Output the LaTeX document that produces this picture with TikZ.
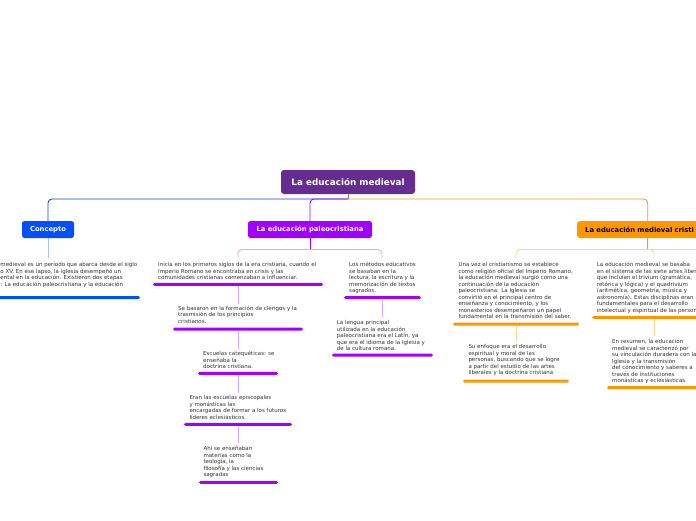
\documentclass[tikz,border=0pt]{standalone}
\usepackage{fontspec}
\setmainfont{DejaVu Sans}
\definecolor{rootc}{HTML}{662D91}
\definecolor{bluec}{HTML}{0050FF}
\definecolor{bluel}{HTML}{1A44D6}
\definecolor{bluelt}{HTML}{A8C2FF}
\definecolor{purc}{HTML}{A100FF}
\definecolor{purlt}{HTML}{DDA6FF}
\definecolor{orc}{HTML}{FF9800}
\definecolor{orl}{HTML}{EE9A2E}
\definecolor{orlt}{HTML}{FFD48C}
\definecolor{txtc}{HTML}{333333}
\definecolor{stemc}{HTML}{B07A5A}
\begin{document}
\begin{tikzpicture}[x=1pt,y=-1pt,
  rootbox/.style={fill=rootc, rounded corners=3pt, text=white, font=\fontsize{8.8}{10}\selectfont\bfseries, minimum width=134pt, minimum height=24pt, inner sep=0pt},
  lonebox/.style={rounded corners=2.5pt, font=\fontsize{6.8}{8}\selectfont\bfseries, minimum height=17pt, inner sep=0pt},
  txt/.style={anchor=north west, inner sep=0pt, align=left, text=txtc, font=\fontsize{5.5}{6.5}\selectfont},
  barb/.style={fill=#1, rounded corners=1.5pt, minimum height=3pt, inner sep=0pt},
  con/.style={draw=#1, line width=0.9pt},
  rcon/.style={draw=#1, line width=0.9pt, rounded corners=4pt},
]
\useasboundingbox (0,0) rectangle (696,520);
\clip (0,0) rectangle (696,520);
\fill[white] (0,0) rectangle (696,520);

% main boxes
\node[rootbox] (root) at (348,182) {La educación medieval};
\node[lonebox, fill=bluec, text=white, minimum width=52pt] (conc) at (48,229.5) {Concepto};
\node[lonebox, fill=purc, text=white, minimum width=124pt] (paleo) at (310,229.5) {La educación paleocristiana};
\node[lonebox, fill=orc, text=black, anchor=west, text width=125pt, align=left, inner xsep=8pt] (medc) at (577,229.5) {La educación medieval cristi};

% root connectors
\coordinate (hub) at (348,199);
\draw[rcon=bluel] (hub) -| (conc.north);
\draw[rcon=purc] (hub) -| (paleo.north);
\draw[rcon=orl] (hub) -| (medc.north);
\draw[con=stemc] (root.south) -- (hub);

% junction coordinates
\coordinate (k1in) at (48,258);
\coordinate (pj) at (310,249.5);
\coordinate (a1in) at (238,258);
\coordinate (b1in) at (382,258);
\coordinate (oj) at (647.5,249.5);
\coordinate (c1in) at (516,258);
\coordinate (d1in) at (654,258);
\coordinate (eout) at (710,249.5);
\coordinate (a2in) at (238,304);
\coordinate (a3in) at (238,349);
\coordinate (a4in) at (238,393);
\coordinate (a5in) at (238,443);
\coordinate (b2in) at (382.5,317);
\coordinate (c2in) at (516,341);
\coordinate (d2in) at (654,336);

% bars
\node[barb=bluec, minimum width=184pt] (k1bar) at (48,297.5) {};
\node[barb=purc, minimum width=170pt] (a1bar) at (238,284.3) {};
\node[barb=purc, minimum width=130pt] (a2bar) at (238,329) {};
\node[barb=purc, minimum width=80pt] (a3bar) at (238,373.3) {};
\node[barb=purc, minimum width=108pt] (a4bar) at (238,424.3) {};
\node[barb=purc, minimum width=79pt] (a5bar) at (238.5,482.3) {};
\node[barb=purc, minimum width=77pt] (b1bar) at (382.5,297.7) {};
\node[barb=purc, minimum width=101pt] (b2bar) at (382.5,355) {};
\node[barb=orc, minimum width=126pt] (c1bar) at (516,324) {};
\node[barb=orc, minimum width=106pt] (c2bar) at (516,381) {};
\node[barb=orc, minimum width=124pt] (d1bar) at (654,317.3) {};
\node[barb=orc, minimum width=94pt] (d2bar) at (654,387.7) {};

% level connectors
\draw[con=bluelt] (conc.south) -- (k1in);
\draw[con=purc] (paleo.south) -- (pj);
\draw[rcon=purlt] (pj) -| (a1in);
\draw[rcon=purlt] (pj) -| (b1in);
\draw[con=orc] (medc.south) -- (oj);
\draw[rcon=orlt] (oj) -| (c1in);
\draw[rcon=orlt] (oj) -| (d1in);
\draw[con=orlt] (oj) -- (eout);
\draw[con=purlt] (a1bar.south) -- (a2in);
\draw[con=purlt] (a2bar.south) -- (a3in);
\draw[con=purlt] (a3bar.south) -- (a4in);
\draw[con=purlt] (a4bar.south) -- (a5in);
\draw[con=purlt] (b1bar.south) -- (b2in);
\draw[con=orlt] (c1bar.south) -- (c2in);
\draw[con=orlt] (d1bar.south) -- (d2in);

% texts
\node[txt] (k1) at (0.3,262) {medieval es un período que abarca desde el siglo\\o XV. En ese lapso, la iglesia desempeñó un\\ental en la educación. Existieron dos etapas\\: La educación paleocristiana y la educación};
\node[txt] (a1) at (158,262.3) {Inicia en los primeros siglos de la era cristiana, cuando el\\Imperio Romano se encontraba en crisis y las\\comunidades cristianas comenzaban a influenciar.};
\node[txt] (a2) at (178,305.6) {Se basaron en la formación de clérigos y la\\trasmisión de los principios\\cristianos.};
\node[txt] (a3) at (203,351.3) {Escuelas catequéticas: se\\enseñaba la\\doctrina cristiana.};
\node[txt] (a4) at (189.3,395.6) {Eran las escuelas episcopales\\y monásticas las\\encargadas de formar a los futuros\\líderes eclesiásticos.};
\node[txt] (a5) at (203.3,446.3) {Ahí se enseñaban\\materias como la\\teología, la\\filosofía y las ciencias\\sagradas};
\node[txt] (b1) at (349,262.3) {Los métodos educativos\\se basaban en la\\lectura, la escritura y la\\memorización de textos\\sagrados.};
\node[txt] (b2) at (336.7,320.6) {La lengua principal\\utilizada en la educación\\paleocristiana era el Latín, ya\\que era el idioma de la Iglesia y\\de la cultura romana.};
\node[txt] (c1) at (458.3,262.3) {Una vez el cristianismo se establece\\como religión oficial del Imperio Romano,\\la educación medieval surgió como una\\continuación de la educación\\paleocristiana. La Iglesia se\\convirtió en el principal centro de\\enseñanza y conocimiento, y los\\monasterios desempeñaron un papel\\fundamental en la transmisión del saber.};
\node[txt] (c2) at (468.3,344.6) {Su enfoque era el desarrollo\\espiritual y moral de las\\personas, buscando que se logre\\a partir del estudio de las artes\\liberales y la doctrina cristiana};
\node[txt] (d1) at (596.7,262.3) {La educación medieval se basaba\\en el sistema de las siete artes liber\\que incluían el trivium (gramática,\\retórica y lógica) y el quadrivium\\(aritmética, geometría, música y\\astronomía). Estas disciplinas eran\\fundamentales para el desarrollo\\intelectual y espiritual de las person};
\node[txt] (d2) at (612,339) {En resumen, la educación\\medieval se caracterizó por\\su vinculación duradera con la\\Iglesia y la transmisión\\del conocimiento y saberes a\\través de instituciones\\monásticas y eclesiásticas.};
\end{tikzpicture}
\end{document}
